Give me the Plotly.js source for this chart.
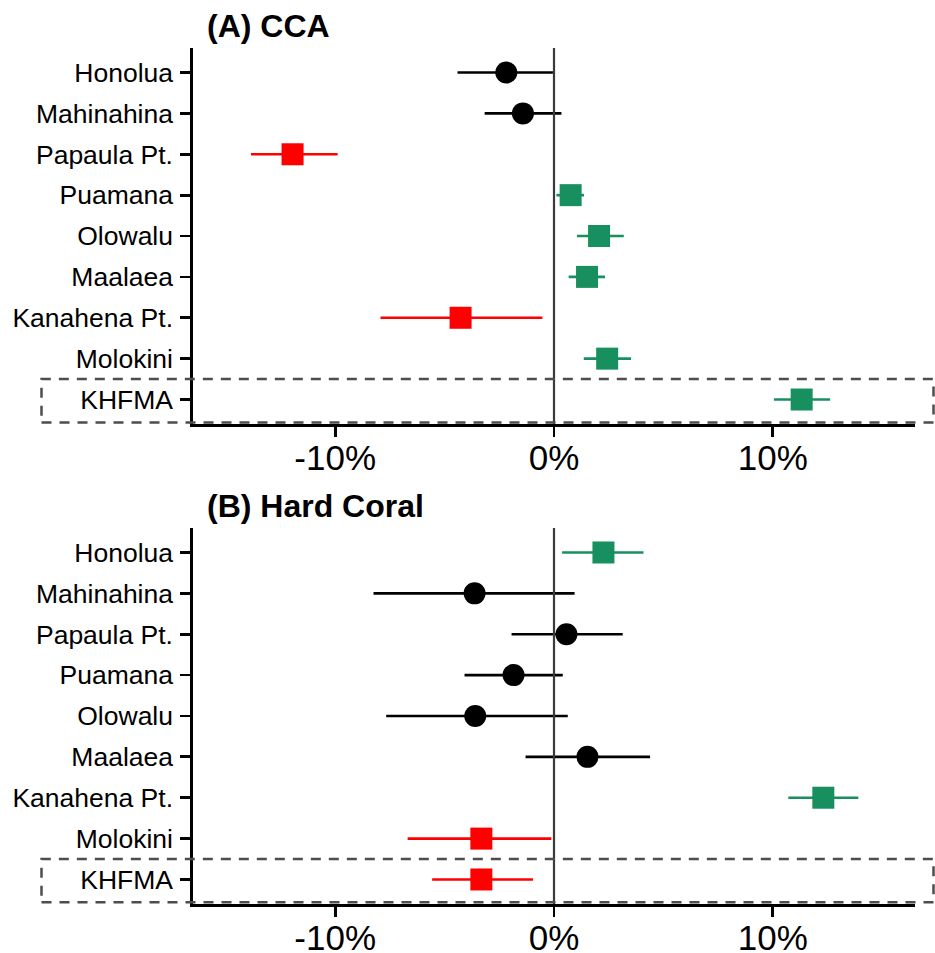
<!DOCTYPE html>
<html><head><meta charset="utf-8">
<script src="https://cdn.plot.ly/plotly-3.0.1.min.js"></script>
<style>html,body{margin:0;padding:0;background:#fff}</style>
</head><body><div id="chart" style="width:935px;height:953px"></div>
<script>
// ---- data ----
const sites = ["Honolua","Mahinahina","Papaula Pt.","Puamana","Olowalu","Maalaea","Kanahena Pt.","Molokini","KHFMA"];

const ccaEst  = [-2.18, -1.42, -11.95, 0.76, 2.06, 1.51, -4.27, 2.43, 11.32];
const ccaLow  = [-4.41, -3.17, -13.85, 0.11, 1.05, 0.67, -7.93, 1.36, 10.05];
const ccaHigh = [-0.05,  0.34,  -9.89, 1.37, 3.19, 2.33, -0.53, 3.52, 12.62];
const ccaSig  = ["ns","ns","neg","pos","pos","pos","neg","pos","pos"];

const coralEst  = [2.26, -3.63, 0.57, -1.85, -3.60, 1.53, 12.31, -3.32, -3.32];
const coralLow  = [0.37, -8.25, -1.94, -4.09, -7.67, -1.30, 10.71, -6.69, -5.57];
const coralHigh = [4.09,  0.94,  3.14,  0.40,  0.63,  4.39, 13.91, -0.12, -0.96];
const coralSig  = ["pos","ns","ns","ns","ns","ns","pos","neg","neg"];

const highlightSite = "KHFMA";
const tickVals = [-10, 0, 10];
const tickText = ["-10%", "0%", "10%"];
const panelTitles = ["(A) CCA", "(B) Hard Coral"];

// ---- styles ----
const FONT = "'Liberation Sans', Arial, Helvetica, sans-serif";
const groupStyle = {
  ns:  {color: "#000000", symbol: "circle"},
  neg: {color: "#FF0000", symbol: "square"},
  pos: {color: "#178F5F", symbol: "square"}
};

const panels = [
  {est: ccaEst, lo: ccaLow, hi: ccaHigh, sig: ccaSig, xa: "x", ya: "y"},
  {est: coralEst, lo: coralLow, hi: coralHigh, sig: coralSig, xa: "x2", ya: "y2"}
];

const traces = [];
panels.forEach(p => {
  ["ns","neg","pos"].forEach(g => {
    const idx = p.sig.map((s,i) => s === g ? i : -1).filter(i => i >= 0);
    if (!idx.length) return;
    const st = groupStyle[g];
    traces.push({
      type: "scatter", mode: "markers",
      x: idx.map(i => p.est[i]),
      y: idx.map(i => sites[i]),
      xaxis: p.xa, yaxis: p.ya,
      marker: {color: st.color, symbol: st.symbol, size: 22, line: {width: 0}},
      error_x: {
        type: "data", symmetric: false,
        array: idx.map(i => p.hi[i] - p.est[i]),
        arrayminus: idx.map(i => p.est[i] - p.lo[i]),
        color: st.color, thickness: 2.7, width: 0
      },
      showlegend: false, hoverinfo: "skip"
    });
  });
});

const catOrder = sites.slice().reverse();

function xAxis(anchor) {
  return {
    anchor: anchor, range: [-16.5, 16.5], showgrid: false, zeroline: false,
    showline: true, linecolor: "#000", linewidth: 2.7,
    ticks: "outside", ticklen: 10, tickwidth: 2.7, tickcolor: "#000",
    tickvals: tickVals, ticktext: tickText, ticklabelstandoff: -9,
    tickfont: {family: FONT, size: 35, color: "#000"}
  };
}
function yAxis(anchor, domain) {
  return {
    anchor: anchor, domain: domain, type: "category",
    categoryorder: "array", categoryarray: catOrder, range: [-0.6, 8.6],
    showgrid: false, zeroline: false,
    showline: true, linecolor: "#000", linewidth: 2.7,
    ticks: "outside", ticklen: 10, tickwidth: 2.7, tickcolor: "#000",
    ticklabelstandoff: 2,
    tickfont: {family: FONT, size: 26.5, color: "#000"}
  };
}

const W = 935, H = 953, ML = 193, MR = 20, MT = 48, MB = 49;
const plotW = W - ML - MR;
const shapes = [];
const annotations = [];
[["x","y"],["x2","y2"]].forEach((ax, k) => {
  // zero reference line
  shapes.push({type: "line", xref: ax[0], yref: ax[1] + " domain", x0: 0, x1: 0, y0: 0, y1: 1,
    line: {color: "#3a3a3a", width: 2.2}, layer: "above"});
  // dashed highlight box around KHFMA
  const hi = catOrder.indexOf(highlightSite);
  shapes.push({type: "rect", xref: "paper", yref: ax[1],
    x0: (41.5 - ML) / plotW, x1: (933.5 - ML) / plotW, y0: hi - 0.56, y1: hi + 0.5,
    line: {color: "#4d4d4d", width: 2.5, dash: "10px,8px"}, fillcolor: "rgba(0,0,0,0)", layer: "above"});
  annotations.push({text: "<b>" + panelTitles[k] + "</b>", xref: "paper", yref: "paper",
    x: 0.016, xanchor: "left", y: k === 0 ? 1.026 : 0.4655, yanchor: "middle",
    showarrow: false, font: {family: FONT, size: 32, color: "#000"}});
});

const layout = {
  width: W, height: H,
  margin: {l: ML, r: MR, t: MT, b: MB},
  paper_bgcolor: "#fff", plot_bgcolor: "#fff",
  xaxis: xAxis("y"), yaxis: yAxis("x", [0.5607, 1]),
  xaxis2: xAxis("y2"), yaxis2: yAxis("x2", [0, 0.4393]),
  shapes: shapes, annotations: annotations, showlegend: false
};

Plotly.newPlot("chart", traces, layout, {displayModeBar: false, staticPlot: true});
</script></body></html>
